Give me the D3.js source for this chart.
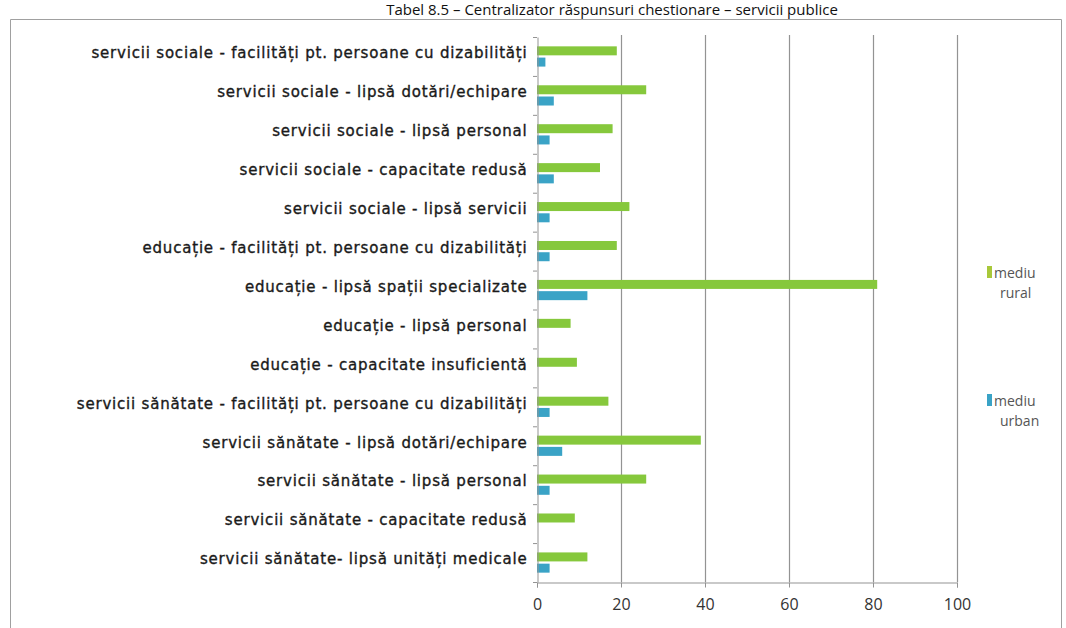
<!DOCTYPE html>
<html><head><meta charset="utf-8">
<script src="https://cdn.jsdelivr.net/npm/d3@7/dist/d3.min.js"></script>
<style>body{margin:0;background:#fff}svg{display:block}</style>
</head><body>
<svg id="c" width="1066" height="628"></svg>
<script>
const title = "Tabel 8.5 – Centralizator răspunsuri chestionare – servicii publice";
const categories = [
  "servicii sociale - facilități pt. persoane cu dizabilități",
  "servicii sociale - lipsă dotări/echipare",
  "servicii sociale - lipsă personal",
  "servicii sociale - capacitate redusă",
  "servicii sociale - lipsă servicii",
  "educație - facilități pt. persoane cu dizabilități",
  "educație - lipsă spații specializate",
  "educație - lipsă personal",
  "educație - capacitate insuficientă",
  "servicii sănătate - facilități pt. persoane cu dizabilități",
  "servicii sănătate - lipsă dotări/echipare",
  "servicii sănătate - lipsă personal",
  "servicii sănătate - capacitate redusă",
  "servicii sănătate- lipsă unități medicale"
];
const seriesNames = ["mediu rural", "mediu urban"];
const rural = [19, 26, 18, 15, 22, 19, 81, 8, 9.5, 17, 39, 26, 9, 12];
const urban = [2, 4, 3, 4, 3, 3, 12, 0, 0, 3, 6, 3, 0, 3];
const xTicks = [0, 20, 40, 60, 80, 100];
const colors = ["#86c83c", "#3aa3c6"];

const svg = d3.select("#c");
const M = {left: 537, right: 957, top: 37, bottom: 582};

// frame
svg.append("path").attr("d", "M10.5,628 V19.5 H1061.5 V628")
  .attr("fill", "none").attr("stroke", "#a0a0a0").attr("stroke-width", 1);

svg.append("text").attr("x", 612).attr("y", 15).attr("text-anchor", "middle")
  .attr("font-family", "Open Sans, sans-serif").attr("font-size", 15).attr("fill", "#111")
  .text(title);

const x = d3.scaleLinear().domain([0, 100]).range([M.left, M.right]);
const y = d3.scaleBand().domain(categories).range([M.top, M.bottom]).paddingInner(0.48).paddingOuter(0.24);
const ys = d3.scaleBand().domain(seriesNames).range([0, y.bandwidth()]).paddingInner(0.2);

// gridlines
svg.append("g").selectAll("line").data(xTicks.slice(1)).join("line")
  .attr("x1", d => x(d) + 0.5).attr("x2", d => x(d) + 0.5)
  .attr("y1", M.top - 2).attr("y2", M.bottom)
  .attr("stroke", "#939393").attr("stroke-width", 1.2);

// bars
const g = svg.append("g");
categories.forEach((c, i) => {
  [rural[i], urban[i]].forEach((v, s) => {
    if (v <= 0) return;
    g.append("rect")
      .attr("x", x(0)).attr("y", y(c) + ys(seriesNames[s]))
      .attr("width", x(v) - x(0)).attr("height", ys.bandwidth())
      .attr("fill", colors[s]);
  });
});

// x axis
const xa = svg.append("g").attr("transform", `translate(0,${M.bottom + 0.5})`)
  .call(d3.axisBottom(x).tickValues(xTicks).tickSize(5).tickPadding(11));
xa.select(".domain").attr("stroke", "#939393");
xa.selectAll(".tick line").attr("stroke", "#939393");
xa.selectAll("text").attr("font-family", "Open Sans, sans-serif").attr("font-size", 16).attr("fill", "#333");

// y axis
const ya = svg.append("g").attr("transform", `translate(${M.left + 0.5},0)`)
  .call(d3.axisLeft(y).tickSize(0).tickPadding(10));
ya.select(".domain").attr("stroke", "#939393");
ya.selectAll("text").attr("font-family", "DejaVu Sans, Verdana, sans-serif")
  .attr("font-size", 15).attr("letter-spacing", 0.8)
  .attr("fill", "#1a1a1a").attr("stroke", "#1a1a1a").attr("stroke-width", 0.35)
  .attr("dy", "0.12em");
// category boundary ticks
svg.append("g").selectAll("line").data(d3.range(categories.length + 1)).join("line")
  .attr("x1", M.left - 4).attr("x2", M.left)
  .attr("y1", i => M.top + i * (M.bottom - M.top) / categories.length + 0.5)
  .attr("y2", i => M.top + i * (M.bottom - M.top) / categories.length + 0.5)
  .attr("stroke", "#939393");

// legend
const lg = svg.append("g").attr("font-family", "Open Sans, sans-serif").attr("font-size", 14).attr("fill", "#555");
const legY = [273, 401];
const legColors = ["#a8c83a", "#3aa3c6"];
seriesNames.forEach((n, i) => {
  const parts = n.split(" ");
  lg.append("rect").attr("x", 987).attr("y", legY[i] - 7).attr("width", 5).attr("height", 12).attr("fill", legColors[i]);
  const t = lg.append("text").attr("x", 994).attr("y", legY[i] + 5);
  t.append("tspan").text(parts[0]);
  t.append("tspan").attr("x", 1000).attr("dy", 20).text(parts[1]);
});
</script>
</body></html>
